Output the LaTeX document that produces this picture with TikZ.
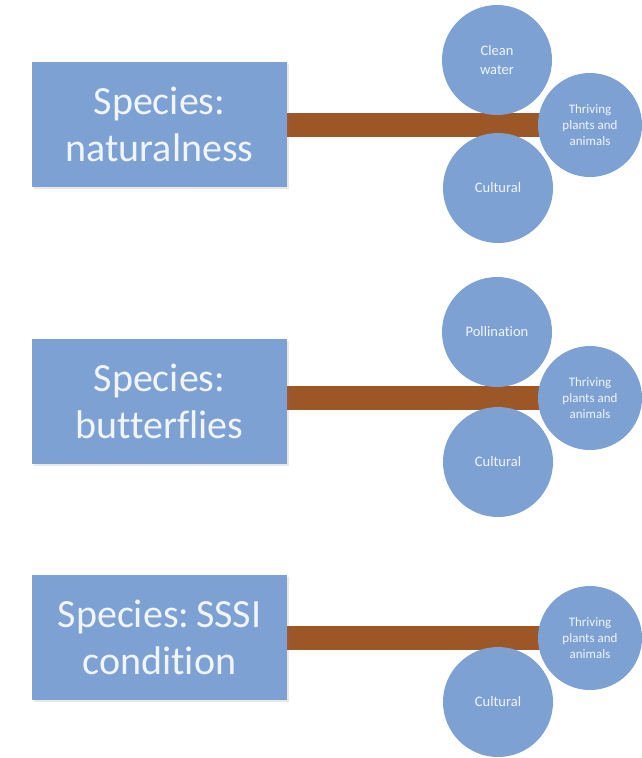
\documentclass[tikz,border=0pt]{standalone}
\usepackage{fontspec}
\setmainfont[Ligatures={NoCommon}]{Carlito}
\usetikzlibrary{backgrounds,shadows}
\pgfdeclarelayer{bars}
\pgfsetlayers{background,bars,main}
\definecolor{boxblue}{RGB}{125,161,211}
\definecolor{barbrown}{RGB}{157,86,38}
\definecolor{txtwhite}{RGB}{240,245,251}
\tikzset{
  speciesbox/.style={rectangle, fill=boxblue, minimum width=255pt, minimum height=125pt,
    inner sep=0pt, align=center, text=txtwhite,
    font=\fontsize{40}{47}\selectfont,
    drop shadow={opacity=0.18, shadow xshift=1.5pt, shadow yshift=-1.5pt}},
  svc/.style={circle, fill=boxblue, minimum size=110pt, inner sep=0pt, align=center,
    text=txtwhite, font=\fontsize{14.5}{19}\selectfont},
  thr/.style={circle, fill=boxblue, minimum size=104pt, inner sep=0pt, align=center,
    text=txtwhite, font=\fontsize{13}{16}\selectfont},
  barline/.style={draw=barbrown, line width=24pt}
}
\begin{document}
\begin{tikzpicture}[x=1pt,y=-1pt]
\begin{pgfonlayer}{background}
\fill[white] (0,0) rectangle (641,758);
\end{pgfonlayer}
\useasboundingbox (0,0) rectangle (641,758);
% group 1
\node[speciesbox] (b1) at (159.5,124.5) {Species:\\naturalness};
\node[thr] (t1) at (590,125) {Thriving\\plants and\\animals};
\node[svc] (w1) at (497,60) {Clean\\water};
\node[svc] (c1) at (498,188) {Cultural};
% group 2
\node[speciesbox] (b2) at (159.5,401.5) {Species:\\butterflies};
\node[thr] (t2) at (590,398) {Thriving\\plants and\\animals};
\node[svc] (p2) at (497,332) {Pollination};
\node[svc] (c2) at (498,462) {Cultural};
% group 3
\node[speciesbox] (b3) at (159.5,637.5) {Species:\,SSSI\\condition};
\node[thr] (t3) at (590,638) {Thriving\\plants and\\animals};
\node[svc] (c3) at (498,702) {Cultural};
\begin{pgfonlayer}{bars}
\draw[barline] (b1.east |- 0,125) -- (t1.center);
\draw[barline] (b2.east |- 0,398) -- (t2.center);
\draw[barline] (b3.east |- 0,638) -- (t3.center);
\end{pgfonlayer}
\end{tikzpicture}
\end{document}
